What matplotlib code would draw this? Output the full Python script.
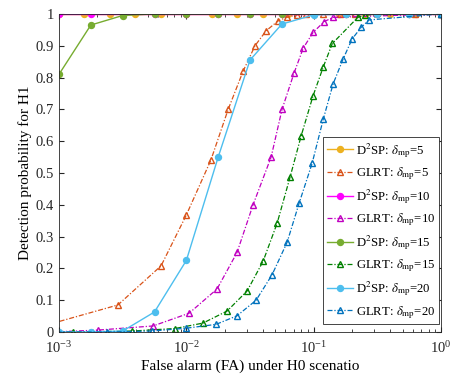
import numpy as np
import matplotlib
matplotlib.use("Agg")
import matplotlib.pyplot as plt

plt.rcParams['font.family'] = ['Liberation Serif', 'DejaVu Serif']
plt.rcParams['mathtext.fontset'] = 'stix'

# D2SP curves share a log-spaced FA grid
fa_d5 = 10 ** np.linspace(-3, 0, 16)
pd_d5 = [1] * 16
fa_d10 = 10 ** np.linspace(-3, 0, 13)
pd_d10 = [1] * 13
fa_d15 = 10 ** np.linspace(-3, 0, 13)
pd_d15 = [0.81, 0.965, 0.995, 1, 1, 1, 1, 1, 1, 1, 1, 1, 1]
fa_d20 = 10 ** np.linspace(-3, 0, 13)
pd_d20 = [0, 0, 0.003, 0.063, 0.225, 0.55, 0.855, 0.968, 0.997, 0.999, 1, 1, 1]

# GLRT curves (empirical FA)
fa_g5 = [6e-4, 2.90e-3, 6.33e-3, 1.0e-2, 1.56e-2, 2.13e-2, 2.79e-2, 3.46e-2, 4.23e-2,
         5.25e-2, 6.18e-2, 7.41e-2, 8.71e-2, 0.119, 0.161, 0.211, 0.626, 1]
pd_g5 = [0.008, 0.085, 0.208, 0.368, 0.541, 0.70, 0.82, 0.90, 0.947,
         0.978, 0.99, 0.997, 0.999, 1, 1, 1, 1, 1]
fa_g10 = [1e-3, 2.02e-3, 5.47e-3, 1.05e-2, 1.74e-2, 2.50e-2, 3.34e-2, 4.63e-2, 5.64e-2,
          7.02e-2, 8.26e-2, 9.89e-2, 0.121, 0.142, 1]
pd_g10 = [0.001, 0.006, 0.019, 0.059, 0.135, 0.25, 0.40, 0.55, 0.70,
          0.815, 0.892, 0.942, 0.976, 0.989, 1]
fa_g15 = [8e-4, 1.29e-3, 3.74e-3, 8.15e-3, 1.35e-2, 2.09e-2, 3.00e-2, 4.01e-2, 5.16e-2,
          6.53e-2, 7.96e-2, 9.89e-2, 0.119, 0.140, 0.223, 0.254, 1]
pd_g15 = [0, 0, 0.003, 0.011, 0.028, 0.066, 0.129, 0.223, 0.342,
          0.488, 0.616, 0.743, 0.834, 0.907, 0.99, 0.997, 1]
fa_g20 = [8e-4, 2.38e-3, 5.38e-3, 1.0e-2, 1.71e-2, 2.50e-2, 3.53e-2, 4.71e-2, 6.18e-2,
          7.68e-2, 9.71e-2, 0.119, 0.142, 0.170, 0.200, 0.236, 0.272, 1]
pd_g20 = [0, 0, 0.003, 0.012, 0.024, 0.051, 0.10, 0.18, 0.282,
          0.405, 0.53, 0.67, 0.78, 0.858, 0.921, 0.958, 0.981, 1]

fig = plt.figure(figsize=(4.59, 3.76), dpi=100)
ax = fig.add_axes([0.1285, 0.117, 0.8325, 0.846])

def d2sp(fa, pd, c, lab):
    ax.plot(fa, pd, '-', color=c, lw=1.0, marker='o', ms=4.3, mfc=c, mec=c, label=lab)

def glrt(fa, pd, c, lab):
    ax.plot(fa, pd, '-.', color=c, lw=0.9, marker='^', ms=4.3, mfc='none', mec=c,
            mew=1.0, label=lab, dashes=(4, 1.5, 1, 1.5))

d2sp(fa_d5, pd_d5, '#EDB120', r'D$^2$SP: $\delta_{\rm mp}$=5')
glrt(fa_g5, pd_g5, '#D95319', r'GLRT: $\delta_{\rm mp}$=5')
d2sp(fa_d10, pd_d10, '#FF00FF', r'D$^2$SP: $\delta_{\rm mp}$=10')
glrt(fa_g10, pd_g10, '#C000C0', r'GLRT: $\delta_{\rm mp}$=10')
d2sp(fa_d15, pd_d15, '#77AC30', r'D$^2$SP: $\delta_{\rm mp}$=15')
glrt(fa_g15, pd_g15, '#008000', r'GLRT: $\delta_{\rm mp}$=15')
d2sp(fa_d20, pd_d20, '#4DBEEE', r'D$^2$SP: $\delta_{\rm mp}$=20')
glrt(fa_g20, pd_g20, '#0072BD', r'GLRT: $\delta_{\rm mp}$=20')

ax.set_xscale('log')
ax.set_xlim(1e-3, 1)
ax.set_ylim(0, 1)
ax.set_yticks(np.arange(0, 1.01, 0.1))
ax.set_yticklabels(['0', '0.1', '0.2', '0.3', '0.4', '0.5', '0.6', '0.7', '0.8', '0.9', '1'])
ax.tick_params(which='both', direction='in', top=True, right=True, labelsize=10.5,
               colors='#262626')
ax.tick_params(axis='x', which='major', pad=6)
ax.tick_params(which='major', length=3.5)
ax.tick_params(which='minor', length=2)
for s in ax.spines.values():
    s.set_color('#262626')
    s.set_linewidth(0.6)

ax.set_xlabel('False alarm (FA) under H0 scenatio', fontsize=11, labelpad=2)
ax.set_ylabel('Detection probability for H1', fontsize=11, labelpad=3)

leg = ax.legend(loc='lower right', bbox_to_anchor=(0.998, 0.02), fontsize=9.2,
                frameon=True, fancybox=False, edgecolor='#262626', framealpha=1,
                handlelength=2.0, labelspacing=0.42, borderpad=0.3, handletextpad=0.25,
                borderaxespad=0.1)
leg.get_frame().set_linewidth(0.6)

fig.savefig('out.png', dpi=100)
